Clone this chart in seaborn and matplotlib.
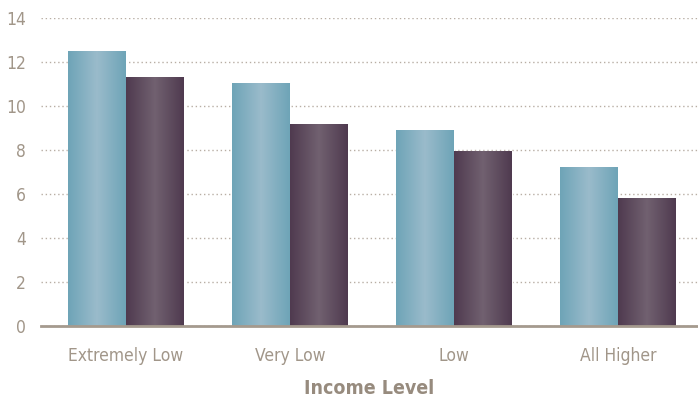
import numpy as np
import pandas as pd
import matplotlib
matplotlib.use("Agg")
import matplotlib.pyplot as plt
from matplotlib import font_manager
from matplotlib.colors import LinearSegmentedColormap
import seaborn as sns

# values
income_levels = ["Extremely Low", "Very Low", "Low", "All Higher"]
series_names = ["Series 1", "Series 2"]
series_1 = [12.5, 11.05, 8.9, 7.23]
series_2 = [11.32, 9.18, 7.95, 5.82]

df = pd.DataFrame({
    "Income Level": income_levels * 2,
    "value": series_1 + series_2,
    "series": [series_names[0]] * 4 + [series_names[1]] * 4,
})

sns.set_style("white")

# look for a narrow font, the reference uses a condensed face
narrow = [f for f in font_manager.fontManager.ttflist
          if "narrow" in f.name.lower() or "condensed" in f.name.lower()
          or str(f.stretch).lower() in ("condensed", "semi-condensed", "600", "500")]
fam = ["DejaVu Sans"]
stretch = "normal"
if narrow:
    f0 = narrow[0]
    fam = [f0.name, "DejaVu Sans"]
    stretch = f0.stretch
plt.rcParams["font.family"] = fam
plt.rcParams["font.stretch"] = stretch

text_col = "#a19689"
grid_col = "#b8aea4"

fig = plt.figure(figsize=(6.98, 4.01), dpi=100)
ax = fig.add_axes([41 / 698, 75 / 401, 657 / 698, 308 / 401])

palette = {series_names[0]: "#70a5b9", series_names[1]: "#574357"}
sns.barplot(data=df, x="Income Level", y="value", hue="series", palette=palette,
            width=0.707, ax=ax, legend=False, errorbar=None, saturation=1)

# cylinder-like shading on each bar
grads = {
    "#70a5b9": LinearSegmentedColormap.from_list("t", ["#6ea4b7", "#9abbcb", "#6ea4b7"]),
    "#574357": LinearSegmentedColormap.from_list("p", ["#4f3a4f", "#716170", "#4f3a4f"]),
}
img = np.linspace(0, 1, 256).reshape(1, -1)
for p in list(ax.patches):
    fc = matplotlib.colors.to_hex(p.get_facecolor())
    cmap = grads.get(fc)
    if cmap is None:
        continue
    x0, y0 = p.get_x(), p.get_y()
    w, h = p.get_width(), p.get_height()
    im = ax.imshow(img, cmap=cmap, aspect="auto", extent=[x0, x0 + w, y0, y0 + h],
                   zorder=p.get_zorder() + 0.1)
    im.set_clip_path(p)

ax.set_xlim(-0.518, 3.488)
ax.set_ylim(0, 14)
ax.set_yticks(range(0, 15, 2))
ax.yaxis.grid(True, linestyle=(0, (1, 2)), color=grid_col, linewidth=1.0)
ax.set_axisbelow(True)

for s in ["top", "right", "left"]:
    ax.spines[s].set_visible(False)
ax.spines["bottom"].set_color("#a59a8e")
ax.spines["bottom"].set_linewidth(2)
ax.spines["bottom"].set_zorder(5)

ax.tick_params(axis="both", length=0, labelsize=12.5, colors=text_col)
ax.tick_params(axis="x", pad=15)
ax.tick_params(axis="y", pad=11)
ax.set_ylabel("")
ax.set_xlabel("Income Level", fontsize=14, fontweight="bold", color="#978b7e", labelpad=10)

fig.savefig("out.png", dpi=100)
